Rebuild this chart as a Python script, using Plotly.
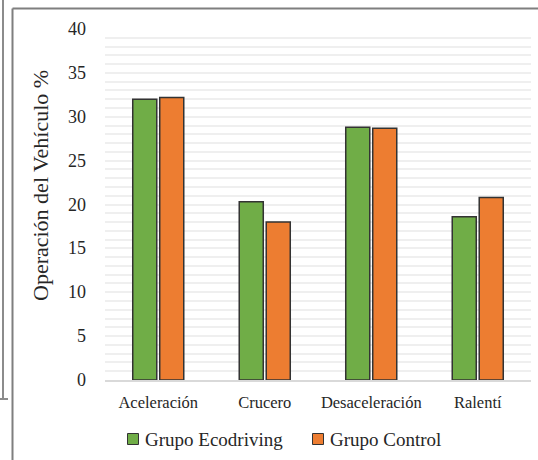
import plotly.graph_objects as go

categories = ["Aceleración", "Crucero", "Desaceleración", "Ralentí"]
ecodriving = [32.0, 20.3, 28.8, 18.6]
control = [32.2, 18.0, 28.7, 20.8]
series_names = ["Grupo Ecodriving", "Grupo Control"]
series_colors = ["#70AD47", "#ED7D31"]
y_ticks = [0, 5, 10, 15, 20, 25, 30, 35, 40]
y_title = "Operación del Vehículo %"

W, H = 538, 460
L, R, T, B = 105, 7, 29, 80
PW, PH = W - L - R, H - T - B

def px(x):
    return (x - L) / PW

def py(y):
    return (H - B - y) / PH

FONT = "Liberation Serif"
TXT = "#262626"

fig = go.Figure()
for name, vals, col in zip(series_names, [ecodriving, control], series_colors):
    fig.add_trace(go.Bar(x=categories, y=vals, name=name, showlegend=False,
                         marker=dict(color=col, line=dict(color="#333333", width=1.5))))

frame = dict(color="#7f7f7f", width=2)
shapes = [
    dict(type="line", xref="paper", yref="paper", x0=px(12.5), x1=px(540), y0=py(8.5), y1=py(8.5), line=frame),
    dict(type="line", xref="paper", yref="paper", x0=px(12.5), x1=px(12.5), y0=py(8.5), y1=py(462), line=frame),
    dict(type="line", xref="paper", yref="paper", x0=px(3), x1=px(3), y0=py(-2), y1=py(399), line=dict(color="#8c8c8c", width=2)),
    dict(type="line", xref="paper", yref="paper", x0=px(-2), x1=px(8), y0=py(399), y1=py(399), line=dict(color="#8c8c8c", width=2)),
]

annotations = []
# y tick labels, placed through the y axis scale
for v in y_ticks:
    annotations.append(dict(xref="paper", x=px(88), xanchor="right", yref="y", y=v, yanchor="middle",
                            text=str(v), showarrow=False, font=dict(family=FONT, size=18, color=TXT)))
# y axis title
annotations.append(dict(xref="paper", x=px(40), xanchor="center", yref="paper", y=py(186), yanchor="middle",
                        text=y_title, textangle=-90, showarrow=False,
                        font=dict(family=FONT, size=22, color=TXT)))
# legend
legend_sq_x = [127.5, 312.5]
for name, col, sx in zip(series_names, series_colors, legend_sq_x):
    shapes.append(dict(type="rect", xref="paper", yref="paper", x0=px(sx), x1=px(sx + 11),
                       y0=py(444.5), y1=py(433.5), fillcolor=col, line=dict(color="#333333", width=1)))
    annotations.append(dict(xref="paper", x=px(sx + 15.5), xanchor="left", yref="paper", y=py(439),
                            yanchor="middle", text=name, showarrow=False,
                            font=dict(family=FONT, size=19, color=TXT)))

fig.update_layout(
    width=W, height=H,
    margin=dict(l=L, r=R, t=T, b=B, pad=0, autoexpand=False),
    paper_bgcolor="white", plot_bgcolor="white",
    barmode="group", bargap=0.493, bargroupgap=0.11,
    font=dict(family=FONT, color=TXT),
    shapes=shapes, annotations=annotations,
    showlegend=False,
    xaxis=dict(showline=True, linecolor="#d9d9d9", linewidth=1.5, ticks="", automargin=False,
               tickfont=dict(size=16.5, family=FONT), ticklabelstandoff=6,
               showgrid=False, zeroline=False),
    yaxis=dict(range=[0, 40], dtick=5, showline=False, ticks="", automargin=False,
               showticklabels=False,
               showgrid=True, gridcolor="#efefef", gridwidth=1.5, zeroline=False,
               minor=dict(dtick=1, showgrid=True, gridcolor="#efefef", gridwidth=1.5)),
)

fig.write_html("out.html", config={"displayModeBar": False},
               post_script="document.body.style.margin='0';")
